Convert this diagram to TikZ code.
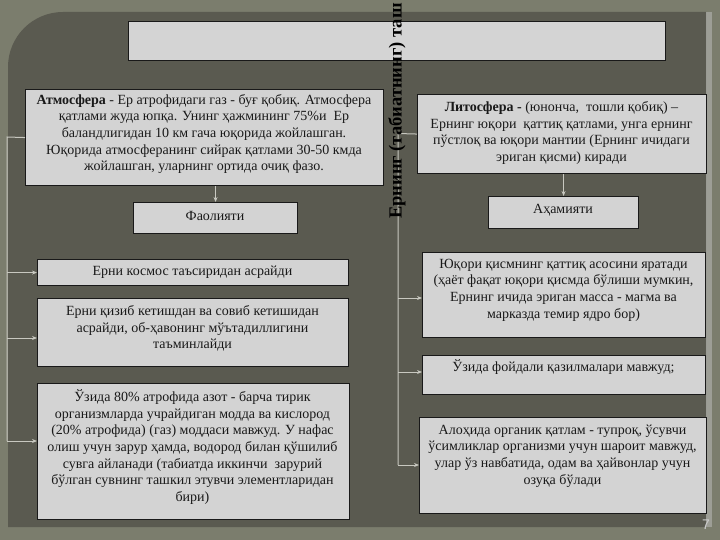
\documentclass[tikz,border=0pt]{standalone}
\usepackage{fontspec}
\setmainfont{Liberation Serif}
\newfontfamily\numfont{Liberation Sans}
\usetikzlibrary{arrows.meta}
\definecolor{bgouter}{HTML}{7B7D6D}
\definecolor{bginner}{HTML}{5A5A50}
\definecolor{boxfill}{HTML}{D3D3D3}
\definecolor{conncol}{HTML}{C8C8C0}
\begin{document}
\begin{tikzpicture}[x=1pt,y=-1pt,
  box/.style={draw=black!90, line width=1.1pt, fill=boxfill, inner sep=0pt, anchor=north west},
  txt/.style={font=\fontsize{14}{16.7}\selectfont, align=center, text=black!90, inner sep=0pt},
  conn/.style={draw=conncol, line width=1pt},
  arr/.style={conn, -{Stealth[length=5pt,width=4pt]}}
]
\useasboundingbox (0,0) rectangle (720,540);
% background
\fill[bgouter] (0,0) rectangle (720,540);
\fill[bginner] (8,527) -- (8,67) .. controls (8,36.6) and (32.6,12) .. (63,12) -- (706,12) -- (706,527) -- cycle;
\fill[black!25, opacity=0.5] (706,12) rectangle (712,527);

% boxes
\node[box, fill=black!17, minimum width=537pt, minimum height=39pt] (title) at (128,21) {};
\node[box, minimum width=358pt, minimum height=96pt] (atm) at (25,89) {};
\node[box, minimum width=289pt, minimum height=79pt] (lith) at (417,94) {};
\node[box, minimum width=164pt, minimum height=31pt] (fa) at (133,202) {};
\node[box, minimum width=150pt, minimum height=32pt] (ah) at (488,196) {};
\node[box, minimum width=311pt, minimum height=26pt] (lb1) at (37,259) {};
\node[box, minimum width=311pt, minimum height=68pt] (lb2) at (37,298) {};
\node[box, minimum width=312pt, minimum height=136pt] (lb3) at (37,383) {};
\node[box, minimum width=283pt, minimum height=85pt] (rb1) at (422,252) {};
\node[box, minimum width=283pt, minimum height=39pt] (rb2) at (422,355) {};
\node[box, minimum width=287pt, minimum height=96pt] (rb3) at (419,417) {};

% texts
\node[txt] (atmt) at (204,134) {\textbf{Атмосфера} - Ер атрофидаги газ - буғ қобиқ. Атмосфера\\
қатлами жуда юпқа. Унинг ҳажмининг 75\%и\ \ Ер\\
баландлигидан 10 км гача юқорида жойлашган.\\
Юқорида атмосферанинг сийрак қатлами 30-50 кмда\\
жойлашган, уларнинг ортида очиқ фазо.};
\node[txt] (litht) at (561.5,133) {\textbf{Литосфера -} (юнонча,\ \ тошли қобиқ) –\\
Ернинг юқори\ \ қаттиқ қатлами, унга ернинг\\
пўстлоқ ва юқори мантии (Ернинг ичидаги\\
эриган қисми) киради};
\node[txt] (fat) at (215,216) {Фаолияти};
\node[txt] (aht) at (563,210) {Аҳамияти};
\node[txt] (lb1t) at (192.5,272) {Ерни космос таъсиридан асрайди};
\node[txt] (lb2t) at (192.5,328.5) {Ерни қизиб кетишдан ва совиб кетишидан\\
асрайди, об-ҳавонинг мўътадиллигини\\
таъминлайди};
\node[txt] (lb3t) at (192.5,447) {Ўзида 80\% атрофида азот - барча тирик\\
организмларда учрайдиган модда ва кислород\\
(20\% атрофида) (газ) моддаси мавжуд. У нафас\\
олиш учун зарур ҳамда, водород билан қўшилиб\\
сувга айланади (табиатда иккинчи\ \ зарурий\\
бўлган сувнинг ташкил этувчи элементларидан\\
бири)};
\node[txt] (rb1t) at (563.5,290) {Юқори қисмнинг қаттиқ асосини яратади\\
(ҳаёт фақат юқори қисмда бўлиши мумкин,\\
Ернинг ичида эриган масса - магма ва\\
марказда темир ядро бор)};
\node[txt] (rb2t) at (563.5,367) {Ўзида фойдали қазилмалари мавжуд;};
\node[txt] (rb3t) at (562.5,456) {Алоҳида органик қатлам - тупроқ, ўсувчи\\
ўсимликлар организми учун шароит мавжуд,\\
улар ўз навбатида, одам ва ҳайвонлар учун\\
озуқа бўлади};

% connectors
\draw[arr] (atm.south -| fa.north) -- (fa.north);
\draw[arr] (lith.south -| ah.north) -- (ah.north);
\coordinate (ltop) at (7,137);
\coordinate (lbot) at (7,441);
\coordinate (lmid) at (7,338);
\draw[conn] (atm.west) -- (ltop) -- (lbot);
\draw[arr] (ltop |- lb1.west) -- (lb1.west);
\draw[arr] (lmid) -- (lmid -| lb2.west);
\draw[arr] (lbot) -- (lbot -| lb3.west);
\coordinate (rtop) at (398,133.5);
\coordinate (rbot) at (398,465);
\coordinate (rm1) at (398,298);
\coordinate (rm2) at (398,372);
\draw[conn] (lith.west) -- (rtop) -- (rbot);
\draw[arr] (rm1) -- (rm1 -| rb1.west);
\draw[arr] (rm2) -- (rm2 -| rb2.west);
\draw[arr] (rbot) -- (rbot -| rb3.west);

% vertical title
\node[rotate=90, anchor=west, inner sep=0pt, font=\fontsize{18.5}{18.5}\selectfont\bfseries, text=black] (vt) at (397,219) {Ернинг (табиатнинг) таш};

% page number
\node[font=\fontsize{14}{14}\selectfont\numfont, text=black!20] (pn) at (706,525) {7};
\end{tikzpicture}
\end{document}
